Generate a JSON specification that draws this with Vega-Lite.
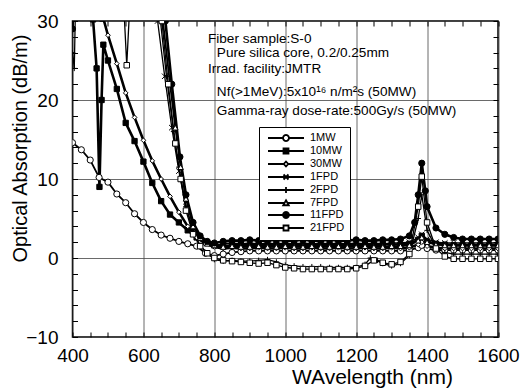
{
 "$schema": "https://vega.github.io/schema/vega-lite/v6.json",
 "width": 425.5, "height": 316,
 "autosize": {"type": "none"},
 "padding": {"left": 72.5, "top": 21, "right": 27, "bottom": 54},
 "background": "white",
 "config": {
  "view": {"stroke": "black", "strokeWidth": 1.5},
  "font": "Liberation Sans",
  "axis": {"domain": false, "tickColor": "black", "tickWidth": 1, "tickSize": -5, "labelColor": "black", "labelFont": "Liberation Sans", "labelFontSize": 19, "titleFont": "Liberation Sans", "titleFontWeight": "normal", "titleColor": "black", "gridColor": "#444", "gridWidth": 0.8, "labelFlush": false, "labelOverlap": false}
 },
 "datasets": {
  "notes": [
   {"w": 782, "a": 27.25, "t": "Fiber sample:S-0"},
   {"w": 807, "a": 25.45, "t": "Pure silica core, 0.2/0.25mm"},
   {"w": 782, "a": 23.4, "t": "Irrad. facility:JMTR"},
   {"w": 807, "a": 20.5, "t": "Nf(>1MeV):5x10¹⁶ n/m²s (50MW)"},
   {"w": 807, "a": 18.1, "t": "Gamma-ray dose-rate:500Gy/s (50MW)"}
  ],
  "curves": [
   {"s":"1MW","w":400,"a":14.6},{"s":"1MW","w":425,"a":13.7},{"s":"1MW","w":450,"a":12.4},{"s":"1MW","w":475,"a":10.2},{"s":"1MW","w":500,"a":9.6},{"s":"1MW","w":525,"a":8.1},{"s":"1MW","w":550,"a":7.0},{"s":"1MW","w":575,"a":5.6},{"s":"1MW","w":600,"a":4.5},{"s":"1MW","w":625,"a":3.6},{"s":"1MW","w":650,"a":2.9},{"s":"1MW","w":675,"a":2.5},{"s":"1MW","w":700,"a":2.1},{"s":"1MW","w":725,"a":1.8},{"s":"1MW","w":750,"a":1.5},{"s":"1MW","w":775,"a":0.6},{"s":"1MW","w":800,"a":0.3},{"s":"1MW","w":825,"a":0.5},{"s":"1MW","w":850,"a":0.7},{"s":"1MW","w":875,"a":0.8},{"s":"1MW","w":900,"a":0.9},{"s":"1MW","w":925,"a":0.9},{"s":"1MW","w":950,"a":0.9},{"s":"1MW","w":975,"a":0.9},{"s":"1MW","w":1000,"a":0.9},{"s":"1MW","w":1025,"a":0.9},{"s":"1MW","w":1050,"a":0.9},{"s":"1MW","w":1075,"a":0.9},{"s":"1MW","w":1100,"a":0.9},{"s":"1MW","w":1125,"a":0.9},{"s":"1MW","w":1150,"a":0.9},{"s":"1MW","w":1175,"a":0.9},{"s":"1MW","w":1200,"a":0.9},{"s":"1MW","w":1225,"a":0.9},{"s":"1MW","w":1250,"a":0.9},{"s":"1MW","w":1275,"a":0.9},{"s":"1MW","w":1300,"a":0.9},{"s":"1MW","w":1325,"a":0.9},{"s":"1MW","w":1350,"a":1.0},{"s":"1MW","w":1375,"a":1.3},{"s":"1MW","w":1385,"a":1.6},{"s":"1MW","w":1400,"a":1.2},{"s":"1MW","w":1425,"a":1.0},{"s":"1MW","w":1450,"a":1.0},{"s":"1MW","w":1475,"a":1.0},{"s":"1MW","w":1500,"a":1.0},{"s":"1MW","w":1525,"a":1.0},{"s":"1MW","w":1550,"a":1.0},{"s":"1MW","w":1575,"a":1.0},{"s":"1MW","w":1600,"a":1.0},
   {"s":"10MW","w":400,"a":40},{"s":"10MW","w":450,"a":33},{"s":"10MW","w":458,"a":30.2},{"s":"10MW","w":468,"a":24},{"s":"10MW","w":476,"a":9},{"s":"10MW","w":482,"a":20},{"s":"10MW","w":487,"a":27},{"s":"10MW","w":500,"a":25.0},{"s":"10MW","w":525,"a":21.4},{"s":"10MW","w":550,"a":17.1},{"s":"10MW","w":575,"a":14.8},{"s":"10MW","w":600,"a":12.2},{"s":"10MW","w":625,"a":9.5},{"s":"10MW","w":650,"a":7.2},{"s":"10MW","w":675,"a":5.5},{"s":"10MW","w":700,"a":4.5},{"s":"10MW","w":725,"a":3.5},{"s":"10MW","w":750,"a":2.6},{"s":"10MW","w":775,"a":2.0},{"s":"10MW","w":800,"a":1.6},{"s":"10MW","w":825,"a":1.5},{"s":"10MW","w":850,"a":1.6},{"s":"10MW","w":875,"a":1.7},{"s":"10MW","w":900,"a":1.6},{"s":"10MW","w":925,"a":1.7},{"s":"10MW","w":950,"a":1.6},{"s":"10MW","w":975,"a":1.7},{"s":"10MW","w":1000,"a":1.6},{"s":"10MW","w":1025,"a":1.7},{"s":"10MW","w":1050,"a":1.6},{"s":"10MW","w":1075,"a":1.7},{"s":"10MW","w":1100,"a":1.6},{"s":"10MW","w":1125,"a":1.7},{"s":"10MW","w":1150,"a":1.6},{"s":"10MW","w":1175,"a":1.7},{"s":"10MW","w":1200,"a":1.6},{"s":"10MW","w":1225,"a":1.7},{"s":"10MW","w":1250,"a":1.6},{"s":"10MW","w":1275,"a":1.7},{"s":"10MW","w":1300,"a":1.7},{"s":"10MW","w":1325,"a":1.7},{"s":"10MW","w":1350,"a":1.8},{"s":"10MW","w":1375,"a":2.3},{"s":"10MW","w":1385,"a":2.8},{"s":"10MW","w":1400,"a":2.1},{"s":"10MW","w":1425,"a":1.8},{"s":"10MW","w":1450,"a":1.7},{"s":"10MW","w":1475,"a":1.6},{"s":"10MW","w":1500,"a":1.6},{"s":"10MW","w":1525,"a":1.6},{"s":"10MW","w":1550,"a":1.6},{"s":"10MW","w":1575,"a":1.6},{"s":"10MW","w":1600,"a":1.6},
   {"s":"30MW","w":400,"a":40},{"s":"30MW","w":475,"a":40},{"s":"30MW","w":486,"a":30.5},{"s":"30MW","w":500,"a":28.2},{"s":"30MW","w":525,"a":24.6},{"s":"30MW","w":550,"a":20.9},{"s":"30MW","w":575,"a":17.8},{"s":"30MW","w":600,"a":14.9},{"s":"30MW","w":625,"a":12.3},{"s":"30MW","w":650,"a":10.0},{"s":"30MW","w":675,"a":7.8},{"s":"30MW","w":700,"a":5.8},{"s":"30MW","w":725,"a":4.0},{"s":"30MW","w":750,"a":2.6},{"s":"30MW","w":775,"a":1.8},{"s":"30MW","w":800,"a":1.4},{"s":"30MW","w":825,"a":1.2},{"s":"30MW","w":850,"a":1.3},{"s":"30MW","w":875,"a":1.2},{"s":"30MW","w":900,"a":1.2},{"s":"30MW","w":925,"a":1.3},{"s":"30MW","w":950,"a":1.2},{"s":"30MW","w":975,"a":1.2},{"s":"30MW","w":1000,"a":1.3},{"s":"30MW","w":1025,"a":1.2},{"s":"30MW","w":1050,"a":1.2},{"s":"30MW","w":1075,"a":1.3},{"s":"30MW","w":1100,"a":1.2},{"s":"30MW","w":1125,"a":1.2},{"s":"30MW","w":1150,"a":1.3},{"s":"30MW","w":1175,"a":1.2},{"s":"30MW","w":1200,"a":1.2},{"s":"30MW","w":1225,"a":1.3},{"s":"30MW","w":1250,"a":1.2},{"s":"30MW","w":1275,"a":1.2},{"s":"30MW","w":1300,"a":1.3},{"s":"30MW","w":1325,"a":1.2},{"s":"30MW","w":1350,"a":1.3},{"s":"30MW","w":1375,"a":1.7},{"s":"30MW","w":1385,"a":2.0},{"s":"30MW","w":1400,"a":1.5},{"s":"30MW","w":1425,"a":1.3},{"s":"30MW","w":1450,"a":1.2},{"s":"30MW","w":1475,"a":1.2},{"s":"30MW","w":1500,"a":1.2},{"s":"30MW","w":1525,"a":1.2},{"s":"30MW","w":1550,"a":1.2},{"s":"30MW","w":1575,"a":1.2},{"s":"30MW","w":1600,"a":1.2},
   {"s":"1FPD","w":400,"a":40},{"s":"1FPD","w":625,"a":40},{"s":"1FPD","w":640,"a":30},{"s":"1FPD","w":660,"a":23},{"s":"1FPD","w":680,"a":16.5},{"s":"1FPD","w":700,"a":11},{"s":"1FPD","w":720,"a":6.5},{"s":"1FPD","w":740,"a":3.6},{"s":"1FPD","w":760,"a":2.4},{"s":"1FPD","w":780,"a":1.9},{"s":"1FPD","w":800,"a":1.6},{"s":"1FPD","w":825,"a":1.8},{"s":"1FPD","w":850,"a":1.9},{"s":"1FPD","w":875,"a":1.8},{"s":"1FPD","w":900,"a":1.9},{"s":"1FPD","w":925,"a":1.8},{"s":"1FPD","w":950,"a":1.9},{"s":"1FPD","w":975,"a":1.8},{"s":"1FPD","w":1000,"a":1.9},{"s":"1FPD","w":1025,"a":1.8},{"s":"1FPD","w":1050,"a":1.9},{"s":"1FPD","w":1075,"a":1.8},{"s":"1FPD","w":1100,"a":1.9},{"s":"1FPD","w":1125,"a":1.8},{"s":"1FPD","w":1150,"a":1.9},{"s":"1FPD","w":1175,"a":1.8},{"s":"1FPD","w":1200,"a":1.9},{"s":"1FPD","w":1225,"a":1.8},{"s":"1FPD","w":1250,"a":1.9},{"s":"1FPD","w":1275,"a":1.8},{"s":"1FPD","w":1300,"a":1.9},{"s":"1FPD","w":1325,"a":1.9},{"s":"1FPD","w":1350,"a":2.0},{"s":"1FPD","w":1375,"a":2.6},{"s":"1FPD","w":1385,"a":3.0},{"s":"1FPD","w":1400,"a":2.4},{"s":"1FPD","w":1425,"a":2.0},{"s":"1FPD","w":1450,"a":1.9},{"s":"1FPD","w":1475,"a":1.9},{"s":"1FPD","w":1500,"a":1.9},{"s":"1FPD","w":1525,"a":1.9},{"s":"1FPD","w":1550,"a":1.9},{"s":"1FPD","w":1575,"a":1.9},{"s":"1FPD","w":1600,"a":1.9},
   {"s":"2FPD","w":400,"a":26},{"s":"2FPD","w":405,"a":24},{"s":"2FPD","w":412,"a":40},{"s":"2FPD","w":640,"a":40},{"s":"2FPD","w":648,"a":30},{"s":"2FPD","w":665,"a":23},{"s":"2FPD","w":685,"a":16},{"s":"2FPD","w":700,"a":11.5},{"s":"2FPD","w":720,"a":6.5},{"s":"2FPD","w":740,"a":3.3},{"s":"2FPD","w":760,"a":1.6},{"s":"2FPD","w":780,"a":0.6},{"s":"2FPD","w":800,"a":-0.2},{"s":"2FPD","w":825,"a":-0.4},{"s":"2FPD","w":850,"a":-0.3},{"s":"2FPD","w":875,"a":-0.4},{"s":"2FPD","w":900,"a":-0.4},{"s":"2FPD","w":925,"a":-0.3},{"s":"2FPD","w":950,"a":-0.2},{"s":"2FPD","w":975,"a":-0.5},{"s":"2FPD","w":1000,"a":-0.9},{"s":"2FPD","w":1025,"a":-1.0},{"s":"2FPD","w":1050,"a":-1.1},{"s":"2FPD","w":1075,"a":-1.1},{"s":"2FPD","w":1100,"a":-1.1},{"s":"2FPD","w":1125,"a":-1.2},{"s":"2FPD","w":1150,"a":-1.2},{"s":"2FPD","w":1175,"a":-1.2},{"s":"2FPD","w":1200,"a":-1.2},{"s":"2FPD","w":1225,"a":-0.8},{"s":"2FPD","w":1240,"a":0.0},{"s":"2FPD","w":1260,"a":-0.3},{"s":"2FPD","w":1275,"a":-0.7},{"s":"2FPD","w":1300,"a":-1.0},{"s":"2FPD","w":1325,"a":-0.7},{"s":"2FPD","w":1350,"a":0.3},{"s":"2FPD","w":1375,"a":5.0},{"s":"2FPD","w":1385,"a":8.0},{"s":"2FPD","w":1400,"a":3.5},{"s":"2FPD","w":1425,"a":1.3},{"s":"2FPD","w":1450,"a":0.7},{"s":"2FPD","w":1475,"a":0.5},{"s":"2FPD","w":1500,"a":0.5},{"s":"2FPD","w":1525,"a":0.5},{"s":"2FPD","w":1550,"a":0.5},{"s":"2FPD","w":1575,"a":0.5},{"s":"2FPD","w":1600,"a":0.5},
   {"s":"7FPD","w":400,"a":40},{"s":"7FPD","w":640,"a":40},{"s":"7FPD","w":655,"a":30},{"s":"7FPD","w":675,"a":22},{"s":"7FPD","w":690,"a":16.5},{"s":"7FPD","w":705,"a":11.5},{"s":"7FPD","w":720,"a":7.5},{"s":"7FPD","w":740,"a":4.0},{"s":"7FPD","w":760,"a":2.5},{"s":"7FPD","w":780,"a":1.8},{"s":"7FPD","w":800,"a":1.6},{"s":"7FPD","w":825,"a":1.4},{"s":"7FPD","w":850,"a":1.5},{"s":"7FPD","w":875,"a":1.4},{"s":"7FPD","w":900,"a":1.4},{"s":"7FPD","w":925,"a":1.5},{"s":"7FPD","w":950,"a":1.4},{"s":"7FPD","w":975,"a":1.4},{"s":"7FPD","w":1000,"a":1.5},{"s":"7FPD","w":1025,"a":1.4},{"s":"7FPD","w":1050,"a":1.4},{"s":"7FPD","w":1075,"a":1.5},{"s":"7FPD","w":1100,"a":1.4},{"s":"7FPD","w":1125,"a":1.4},{"s":"7FPD","w":1150,"a":1.5},{"s":"7FPD","w":1175,"a":1.4},{"s":"7FPD","w":1200,"a":1.4},{"s":"7FPD","w":1225,"a":1.5},{"s":"7FPD","w":1250,"a":1.4},{"s":"7FPD","w":1275,"a":1.4},{"s":"7FPD","w":1300,"a":1.5},{"s":"7FPD","w":1325,"a":1.5},{"s":"7FPD","w":1350,"a":1.6},{"s":"7FPD","w":1375,"a":2.2},{"s":"7FPD","w":1385,"a":2.6},{"s":"7FPD","w":1400,"a":2.0},{"s":"7FPD","w":1425,"a":1.7},{"s":"7FPD","w":1450,"a":1.6},{"s":"7FPD","w":1475,"a":1.6},{"s":"7FPD","w":1500,"a":1.6},{"s":"7FPD","w":1525,"a":1.6},{"s":"7FPD","w":1550,"a":1.6},{"s":"7FPD","w":1575,"a":1.6},{"s":"7FPD","w":1600,"a":1.6},
   {"s":"11FPD","w":400,"a":29},{"s":"11FPD","w":404,"a":33},{"s":"11FPD","w":650,"a":40},{"s":"11FPD","w":662,"a":30},{"s":"11FPD","w":680,"a":22},{"s":"11FPD","w":703,"a":12.8},{"s":"11FPD","w":720,"a":8.0},{"s":"11FPD","w":740,"a":4.5},{"s":"11FPD","w":760,"a":2.8},{"s":"11FPD","w":780,"a":2.1},{"s":"11FPD","w":800,"a":1.9},{"s":"11FPD","w":825,"a":2.1},{"s":"11FPD","w":850,"a":2.2},{"s":"11FPD","w":875,"a":2.2},{"s":"11FPD","w":900,"a":2.3},{"s":"11FPD","w":925,"a":2.2},{"s":"11FPD","w":950,"a":2.2},{"s":"11FPD","w":975,"a":2.3},{"s":"11FPD","w":1000,"a":2.2},{"s":"11FPD","w":1025,"a":2.2},{"s":"11FPD","w":1050,"a":2.3},{"s":"11FPD","w":1075,"a":2.2},{"s":"11FPD","w":1100,"a":2.2},{"s":"11FPD","w":1125,"a":2.3},{"s":"11FPD","w":1150,"a":2.2},{"s":"11FPD","w":1175,"a":2.2},{"s":"11FPD","w":1200,"a":2.3},{"s":"11FPD","w":1225,"a":2.2},{"s":"11FPD","w":1250,"a":2.2},{"s":"11FPD","w":1275,"a":2.3},{"s":"11FPD","w":1300,"a":2.3},{"s":"11FPD","w":1325,"a":2.4},{"s":"11FPD","w":1350,"a":2.8},{"s":"11FPD","w":1365,"a":4.5},{"s":"11FPD","w":1375,"a":8.0},{"s":"11FPD","w":1385,"a":12.0},{"s":"11FPD","w":1395,"a":8.5},{"s":"11FPD","w":1400,"a":6.5},{"s":"11FPD","w":1425,"a":3.8},{"s":"11FPD","w":1450,"a":3.0},{"s":"11FPD","w":1475,"a":2.6},{"s":"11FPD","w":1500,"a":2.4},{"s":"11FPD","w":1525,"a":2.4},{"s":"11FPD","w":1550,"a":2.4},{"s":"11FPD","w":1575,"a":2.4},{"s":"11FPD","w":1600,"a":2.4},
   {"s":"21FPD","w":400,"a":40},{"s":"21FPD","w":525,"a":40},{"s":"21FPD","w":540,"a":36},{"s":"21FPD","w":553,"a":24.4},{"s":"21FPD","w":566,"a":36},{"s":"21FPD","w":640,"a":40},{"s":"21FPD","w":652,"a":30},{"s":"21FPD","w":670,"a":22},{"s":"21FPD","w":690,"a":14.5},{"s":"21FPD","w":705,"a":10},{"s":"21FPD","w":720,"a":6},{"s":"21FPD","w":740,"a":3.0},{"s":"21FPD","w":760,"a":1.5},{"s":"21FPD","w":780,"a":0.6},{"s":"21FPD","w":800,"a":0.0},{"s":"21FPD","w":825,"a":-0.3},{"s":"21FPD","w":850,"a":-0.4},{"s":"21FPD","w":875,"a":-0.5},{"s":"21FPD","w":900,"a":-0.6},{"s":"21FPD","w":925,"a":-0.7},{"s":"21FPD","w":950,"a":-0.6},{"s":"21FPD","w":975,"a":-0.9},{"s":"21FPD","w":1000,"a":-1.2},{"s":"21FPD","w":1025,"a":-1.3},{"s":"21FPD","w":1050,"a":-1.4},{"s":"21FPD","w":1075,"a":-1.4},{"s":"21FPD","w":1100,"a":-1.4},{"s":"21FPD","w":1125,"a":-1.4},{"s":"21FPD","w":1150,"a":-1.4},{"s":"21FPD","w":1175,"a":-1.4},{"s":"21FPD","w":1200,"a":-1.3},{"s":"21FPD","w":1225,"a":-1.0},{"s":"21FPD","w":1250,"a":-0.3},{"s":"21FPD","w":1275,"a":-0.6},{"s":"21FPD","w":1300,"a":-0.8},{"s":"21FPD","w":1325,"a":-0.5},{"s":"21FPD","w":1350,"a":0.5},{"s":"21FPD","w":1375,"a":6.5},{"s":"21FPD","w":1385,"a":10.3},{"s":"21FPD","w":1400,"a":4.5},{"s":"21FPD","w":1425,"a":1.2},{"s":"21FPD","w":1450,"a":0.2},{"s":"21FPD","w":1475,"a":-0.1},{"s":"21FPD","w":1500,"a":-0.1},{"s":"21FPD","w":1525,"a":-0.1},{"s":"21FPD","w":1550,"a":-0.1},{"s":"21FPD","w":1575,"a":-0.1},{"s":"21FPD","w":1600,"a":-0.1}
  ]
 },
 "layer": [
  {
   "data": {"name": "curves"},
   "mark": {"type": "line", "clip": true, "color": "black", "strokeJoin": "round"},
   "encoding": {
    "x": {"field": "w", "type": "quantitative", "scale": {"domain": [400, 1600], "nice": false, "zero": false},
     "axis": {"orient": "bottom", "values": [400,450,500,550,600,650,700,750,800,850,900,950,1000,1050,1100,1150,1200,1250,1300,1350,1400,1450,1500,1550,1600], "format": "d", "labelExpr": "datum.value % 200 === 0 ? datum.label : ''", "labelPadding": 14.6, "grid": true, "gridOpacity": {"condition": {"test": "datum.value % 200 === 0", "value": 1}, "value": 0}, "title": "WAvelength (nm)", "titleFontSize": 21, "titleX": 299.5, "titleY": 40, "titleBaseline": "middle"}},
    "y": {"field": "a", "type": "quantitative", "scale": {"domain": [-10, 30], "nice": false, "zero": false},
     "axis": {"orient": "left", "values": [-10,-8,-6,-4,-2,0,2,4,6,8,10,12,14,16,18,20,22,24,26,28,30], "labelExpr": "datum.value % 10 === 0 ? datum.label : ''", "labelPadding": 19.5, "grid": true, "gridOpacity": {"condition": {"test": "datum.value % 10 === 0", "value": 1}, "value": 0}, "title": "Optical Absorption (dB/m)", "titleFontSize": 20, "titleX": -52.5, "titleY": 127, "titleBaseline": "middle"}},
    "detail": {"field": "s", "type": "nominal"},
    "strokeWidth": {"condition": [{"test": "datum.s === '10MW' || datum.s === '30MW' || datum.s === '11FPD'", "value": 2.6}, {"test": "datum.s === '1MW' || datum.s === '7FPD'", "value": 1.8}], "value": 1.3}
   }
  },
  {
   "data": {"name": "curves"},
   "mark": {"type": "point", "clip": true, "filled": true, "stroke": "black", "strokeWidth": 1, "opacity": 1},
   "encoding": {
    "x": {"field": "w", "type": "quantitative", "axis": {"orient": "top", "values": [400,450,500,550,600,650,700,750,800,850,900,950,1000,1050,1100,1150,1200,1250,1300,1350,1400,1450,1500,1550,1600], "labels": false, "grid": false, "title": null}},
    "y": {"field": "a", "type": "quantitative", "axis": {"orient": "right", "values": [-10,-8,-6,-4,-2,0,2,4,6,8,10,12,14,16,18,20,22,24,26,28,30], "labels": false, "grid": false, "title": null}},
    "shape": {"field": "s", "type": "nominal", "scale": {"domain": ["1MW","10MW","30MW","1FPD","2FPD","7FPD","11FPD","21FPD"], "range": ["circle","square","diamond","M-1,-1L1,1M-1,1L1,-1","M0,-1L0,1M-1,0L1,0","triangle-up","circle","square"]}, "legend": null},
    "fill": {"field": "s", "type": "nominal", "scale": {"domain": ["1MW","10MW","30MW","1FPD","2FPD","7FPD","11FPD","21FPD"], "range": ["white","black","white","white","white","white","black","white"]}, "legend": null},
    "size": {"condition": [{"test": "datum.s === '1MW' || datum.s === '11FPD'", "value": 38}, {"test": "datum.s === '30MW'", "value": 22}, {"test": "datum.s === '10MW'", "value": 28}], "value": 30}
   }
  },
  {
   "data": {"name": "curves"},
   "transform": [{"filter": "datum.a > 30"}],
   "mark": {"type": "point", "clip": true, "filled": false, "color": "black", "strokeWidth": 1.8, "opacity": 1},
   "encoding": {
    "x": {"field": "w", "type": "quantitative", "axis": null},
    "y": {"field": "a", "type": "quantitative", "axis": null},
    "shape": {"field": "s", "type": "nominal", "scale": {"domain": ["1MW","10MW","30MW","1FPD","2FPD","7FPD","11FPD","21FPD"], "range": [
      "M-0.4,0L2.6,0M3.8,0L6.8,0M3.8,0L3.72,0.3L3.5,0.52L3.2,0.6L2.9,0.52L2.68,0.3L2.6,0L2.68,-0.3L2.9,-0.52L3.2,-0.6L3.5,-0.52L3.72,-0.3Z",
      "M-0.4,0L6.8,0M2.7,-0.5L3.7,-0.5L3.7,0.5L2.7,0.5ZM3.0,-0.2L3.4,-0.2L3.4,0.2L3.0,0.2Z",
      "M-0.4,0L2.75,0M3.65,0L6.8,0M3.2,-0.5L3.65,0L3.2,0.5L2.75,0Z",
      "M-0.4,0L6.8,0M2.7,-0.5L3.7,0.5M2.7,0.5L3.7,-0.5",
      "M-0.4,0L6.8,0M3.2,-0.6L3.2,0.6",
      "M-0.4,0L2.9,0M3.5,0L6.8,0M3.2,-0.55L3.75,0.45L2.65,0.45Z",
      "M-0.4,0L6.8,0M3.8,0L3.72,0.3L3.5,0.52L3.2,0.6L2.9,0.52L2.68,0.3L2.6,0L2.68,-0.3L2.9,-0.52L3.2,-0.6L3.5,-0.52L3.72,-0.3ZM3.5,0L3.2,0.3L2.9,0L3.2,-0.3Z",
      "M-0.4,0L2.7,0M3.7,0L6.8,0M2.7,-0.5L3.7,-0.5L3.7,0.5L2.7,0.5Z"]},
     "legend": {"orient": "none", "legendX": 186.5, "legendY": 106, "title": null, "symbolSize": 100, "symbolStrokeWidth": 1.8, "symbolStrokeColor": "black", "symbolFillColor": "white", "labelOffset": 34, "labelFont": "Liberation Sans", "labelFontSize": 11, "labelColor": "black", "padding": 5, "rowPadding": -3, "strokeColor": "black", "fillColor": "white", "labelLimit": 100}}
   }
  },
  {
   "data": {"name": "notes"},
   "mark": {"type": "text", "align": "left", "baseline": "alphabetic", "fontSize": 13.6, "font": "Liberation Sans", "color": "black"},
   "encoding": {
    "x": {"field": "w", "type": "quantitative", "axis": null},
    "y": {"field": "a", "type": "quantitative", "axis": null},
    "text": {"field": "t"}
   }
  }
 ],
 "resolve": {"scale": {"shape": "independent", "fill": "independent"}, "axis": {"x": "independent", "y": "independent"}}
}
